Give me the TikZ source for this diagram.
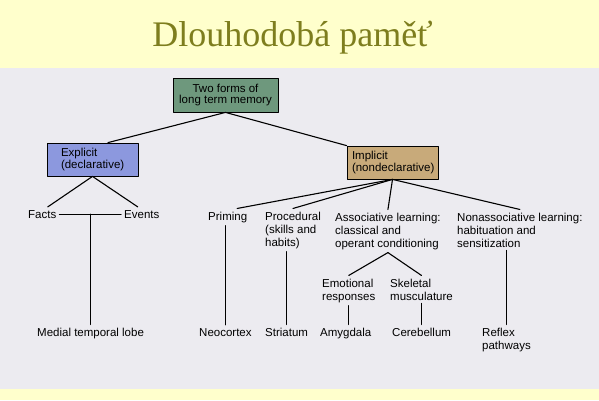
\documentclass[tikz,border=0pt]{standalone}
\usepackage{fontspec}
\setmainfont{Liberation Sans}
\newfontfamily\titlefont{Liberation Serif}
\definecolor{bgyellow}{RGB}{255,255,204}
\definecolor{scangray}{RGB}{236,235,240}
\definecolor{titleolive}{RGB}{126,126,30}
\definecolor{formsgreen}{RGB}{110,152,125}
\definecolor{explblue}{RGB}{140,152,222}
\definecolor{impltan}{RGB}{200,170,122}
\tikzset{>=latex}

\begin{document}
\begin{tikzpicture}[x=1pt,y=-1pt,line cap=round,line join=round,
	lbl/.style={inner sep=3pt,align=left,anchor=base west,font=\fontsize{11.5}{13}\selectfont},
	box/.style={draw=black,line width=0.8pt,inner ysep=0pt,minimum height=33pt,font=\fontsize{11.5}{12.5}\selectfont},
	link/.style={line width=1.1pt}]
		\useasboundingbox (0,0) rectangle (599,400);
		\fill[bgyellow] (0,0) rectangle (599,400);
		\fill[scangray] (0,68) rectangle (599,389);
		\node[anchor=base,text=titleolive,font=\titlefont\fontsize{36}{40}\selectfont] (title) at (292.5,46) {Dlouhodobá paměť};
		
		\node[box,fill=formsgreen,align=center,inner xsep=0pt,minimum width=105pt,minimum height=34pt,font=\fontsize{11.5}{11}\selectfont] (forms) at (225.5,95) {Two forms of\\long term memory};
		\node[box,fill=explblue,align=left,text width=63pt,inner xsep=14pt] (explicit) at (92.5,159.5) {Explicit\\(declarative)};
		\node[box,fill=impltan,align=left,text width=81pt,inner xsep=5pt] (implicit) at (392.5,162.5) {Implicit\\(nondeclarative)};
		
		\node[lbl] (facts) at (25,218) {Facts};
		\node[lbl] (events) at (121,218) {Events};
		\node[lbl] (medial) at (34,336) {Medial temporal lobe};
		\node[lbl] (priming) at (205,220) {Priming};
		\node[lbl] (proc) at (262,246) {Procedural\\(skills and\\habits)};
		\node[lbl] (assoc) at (332,247) {Associative learning:\\classical and\\operant conditioning};
		\node[lbl] (nonassoc) at (454,247) {Nonassociative learning:\\habituation and\\sensitization};
		\node[lbl] (emot) at (319,300) {Emotional\\responses};
		\node[lbl] (skel) at (387,300) {Skeletal\\musculature};
		\node[lbl] (neo) at (196,336) {Neocortex};
		\node[lbl] (striatum) at (262,336) {Striatum};
		\node[lbl] (amyg) at (317,336) {Amygdala};
		\node[lbl] (cereb) at (389,336) {Cerebellum};
		\node[lbl] (reflex) at (479,349) {Reflex\\pathways};
		
		\draw[link] (forms.south) -- ([xshift=15.5pt]explicit.north);
		\draw[link] (forms.south) -- (implicit.north west);
		\draw[link] (explicit.south) -- ([xshift=5.5pt]facts.north);
		\draw[link] (explicit.south) -- ([xshift=-4pt]events.north);
		\draw[link] (facts.east) -- (events.west);
		\draw[link] (medial.north) -- (medial.north |- facts.east);
		\draw[link] (implicit.south) -- ([xshift=9.5pt]priming.north);
		\draw[link] (implicit.south) -- (proc.north);
		\draw[link] (implicit.south) -- (assoc.north);
		\draw[link] (implicit.south) -- (nonassoc.north);
		\draw[link] (neo.north) -- (neo.north |- priming.south);
		\draw[link] (striatum.north) -- (striatum.north |- proc.south);
		\draw[link] (assoc.south) -- (emot.north);
		\draw[link] (assoc.south) -- (skel.north);
		\draw[link] (emot.south) -- (emot.south |- amyg.north);
		\draw[link] (skel.south) -- (skel.south |- cereb.north);
		\draw[link] (reflex.north) -- (reflex.north |- nonassoc.south);
		
\end{tikzpicture}
\end{document}
